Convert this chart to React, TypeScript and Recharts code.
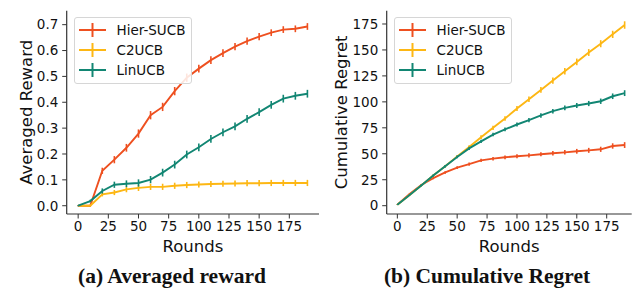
import React from "react";
import {
  LineChart,
  Line,
  XAxis,
  YAxis,
  ErrorBar,
  Legend,
} from "recharts";

const rounds = [0, 10, 20, 30, 40, 50, 60, 70, 80, 90, 100, 110, 120, 130, 140, 150, 160, 170, 180, 190];

// (a) averaged reward
const rewardHier = [0.0, 0.0, 0.135, 0.178, 0.224, 0.279, 0.35, 0.382, 0.443, 0.495, 0.53, 0.563, 0.59, 0.615, 0.636, 0.654, 0.669, 0.681, 0.684, 0.693];
const rewardC2 = [0.0, 0.0, 0.044, 0.051, 0.063, 0.069, 0.073, 0.073, 0.077, 0.08, 0.082, 0.084, 0.085, 0.086, 0.087, 0.087, 0.088, 0.088, 0.088, 0.088];
const rewardLin = [0.0, 0.018, 0.057, 0.081, 0.085, 0.088, 0.101, 0.128, 0.159, 0.198, 0.226, 0.258, 0.284, 0.307, 0.336, 0.362, 0.39, 0.414, 0.425, 0.433];
const rewardHierErr = [0.002, 0.003, 0.012, 0.014, 0.015, 0.016, 0.016, 0.016, 0.016, 0.016, 0.015, 0.015, 0.015, 0.014, 0.014, 0.014, 0.013, 0.013, 0.013, 0.013];
const rewardC2Err = [0.001, 0.002, 0.008, 0.01, 0.011, 0.012, 0.012, 0.012, 0.012, 0.012, 0.012, 0.012, 0.012, 0.012, 0.012, 0.012, 0.012, 0.012, 0.012, 0.012];
const rewardLinErr = [0.002, 0.005, 0.01, 0.012, 0.013, 0.014, 0.014, 0.015, 0.015, 0.015, 0.015, 0.015, 0.015, 0.015, 0.015, 0.015, 0.015, 0.015, 0.015, 0.015];

// (b) cumulative regret
const regretHier = [1, 11, 20, 26.5, 32, 36.7, 40, 43.7, 45.3, 46.6, 47.6, 48.5, 49.5, 50.5, 51.4, 52.4, 53.3, 54.3, 57.5, 58.4];
const regretC2 = [1, 10, 19.5, 29, 38, 47.5, 56.5, 66, 75, 84, 93.5, 102.5, 111.5, 120.5, 129.5, 138.5, 147.5, 156, 165, 174];
const regretLin = [1, 10, 19.5, 29, 38, 47, 55.2, 62, 68.5, 73.5, 78.2, 82.4, 86.9, 91, 94.2, 96.5, 98.4, 100.6, 105.4, 108.4];
const regretHierErr = [0.3, 0.5, 0.8, 1, 1.2, 1.4, 1.5, 1.6, 1.7, 1.8, 1.9, 2, 2, 2.1, 2.2, 2.3, 2.4, 2.5, 2.6, 2.8];
const regretC2Err = [0.3, 0.5, 0.8, 1, 1.2, 1.4, 1.6, 1.8, 2, 2.2, 2.4, 2.6, 2.8, 3, 3.1, 3.2, 3.3, 3.4, 3.5, 3.6];
const regretLinErr = [0.3, 0.5, 0.8, 1, 1.2, 1.4, 1.5, 1.6, 1.7, 1.8, 1.9, 2, 2.1, 2.2, 2.3, 2.4, 2.5, 2.6, 2.7, 2.8];

const xTicks = [0, 25, 50, 75, 100, 125, 150, 175];
const rewardTicks = [0, 0.1, 0.2, 0.3, 0.4, 0.5, 0.6, 0.7];
const regretTicks = [0, 25, 50, 75, 100, 125, 150, 175];

const seriesNames = ["Hier-SUCB", "C2UCB", "LinUCB"];
const colors = ["#ee5020", "#fdb714", "#128673"];

const rewardData = rounds.map((r, i) => ({
  round: r,
  hier: rewardHier[i],
  c2: rewardC2[i],
  lin: rewardLin[i],
  hierErr: rewardHierErr[i],
  c2Err: rewardC2Err[i],
  linErr: rewardLinErr[i],
}));

const regretData = rounds.map((r, i) => ({
  round: r,
  hier: regretHier[i],
  c2: regretC2[i],
  lin: regretLin[i],
  hierErr: regretHierErr[i],
  c2Err: regretC2Err[i],
  linErr: regretLinErr[i],
}));

const font = "'DejaVu Sans', sans-serif";
const spine = "#333";
const tickStyle = { fontSize: 13.5, fill: "#111", fontFamily: font };

function LegendBox() {
  return (
    <div
      style={{
        width: 116,
        height: 63,
        border: "1px solid #d6d6d6",
        borderRadius: 3,
        background: "rgba(255,255,255,0.85)",
        fontFamily: font,
        fontSize: 13.5,
        color: "#111",
        paddingTop: 2,
        boxSizing: "content-box",
      }}
    >
      {seriesNames.map((name, i) => (
        <div key={name} style={{ display: "flex", alignItems: "center", height: 20.3 }}>
          <svg width={38} height={16} style={{ marginLeft: 4 }}>
            <line x1={0} y1={8} x2={27} y2={8} stroke={colors[i]} strokeWidth={2} />
            <line x1={13.5} y1={1} x2={13.5} y2={15} stroke={colors[i]} strokeWidth={2} />
          </svg>
          <span>{name}</span>
        </div>
      ))}
    </div>
  );
}

function Panel({
  data,
  width,
  domainX,
  domainY,
  yTicks,
  yFmt,
  yLabel,
  yLabelX,
  marginRight,
}: {
  data: any[];
  width: number;
  domainX: [number, number];
  domainY: [number, number];
  yTicks: number[];
  yFmt: (v: number) => string;
  yLabel: string;
  yLabelX: number;
  marginRight: number;
}) {
  const keys = ["hier", "c2", "lin"];
  return (
    <LineChart
      width={width}
      height={290}
      data={data}
      margin={{ top: 10.7, right: marginRight, left: 0, bottom: 0 }}
    >
      <XAxis
        dataKey="round"
        type="number"
        domain={domainX}
        allowDataOverflow
        ticks={xTicks}
        height={76}
        tickSize={4.5}
        tickMargin={3.2}
        tick={tickStyle}
        axisLine={{ stroke: spine, strokeWidth: 1.2 }}
        tickLine={{ stroke: spine }}
        label={{
          content: ({ viewBox }: any) => (
            <text
              x={viewBox.x + viewBox.width / 2}
              y={252}
              textAnchor="middle"
              fontSize={16.5}
              fontFamily={font}
              fill="#111"
            >
              Rounds
            </text>
          ),
        }}
      />
      <XAxis
        xAxisId="top"
        orientation="top"
        dataKey="round"
        type="number"
        domain={domainX}
        allowDataOverflow
        height={0}
        tick={false}
        tickLine={false}
        axisLine={{ stroke: spine, strokeWidth: 1.2 }}
      />
      <YAxis
        type="number"
        domain={domainY}
        allowDataOverflow
        ticks={yTicks}
        tickFormatter={yFmt}
        width={66.7}
        tickSize={4.5}
        tickMargin={3.9}
        tick={tickStyle}
        axisLine={{ stroke: spine, strokeWidth: 1.2 }}
        tickLine={{ stroke: spine }}
        label={{
          content: ({ viewBox }: any) => {
            const cy = viewBox.y + viewBox.height / 2;
            return (
              <text
                x={yLabelX}
                y={cy}
                transform={`rotate(-90 ${yLabelX} ${cy})`}
                textAnchor="middle"
                fontSize={16.5}
                fontFamily={font}
                fill="#111"
              >
                {yLabel}
              </text>
            );
          },
        }}
      />
      <YAxis
        yAxisId="right"
        orientation="right"
        type="number"
        domain={domainY}
        allowDataOverflow
        width={0}
        tick={false}
        tickLine={false}
        axisLine={{ stroke: spine, strokeWidth: 1.2 }}
      />
      <Legend
        layout="vertical"
        align="center"
        verticalAlign="middle"
        wrapperStyle={{ left: 73.5, top: 16.5, width: 118 }}
        content={() => <LegendBox />}
      />
      {keys.map((k, i) => (
        <Line
          key={k}
          dataKey={k}
          name={seriesNames[i]}
          type="linear"
          stroke={colors[i]}
          strokeWidth={1.9}
          dot={false}
          isAnimationActive={false}
        >
          <ErrorBar dataKey={k + "Err"} width={0} stroke={colors[i]} strokeWidth={1.6} direction="y" />
        </Line>
      ))}
    </LineChart>
  );
}

const captionStyle: React.CSSProperties = {
  position: "absolute",
  top: 264,
  fontFamily: "'Liberation Serif', serif",
  fontWeight: "bold",
  fontSize: 21.5,
  whiteSpace: "nowrap",
  transform: "translateX(-50%)",
  color: "#111",
};

export default function App() {
  return (
    <div style={{ position: "absolute", left: 0, top: 0, width: 635, height: 290, background: "#fff" }}>
      <div style={{ position: "absolute", left: 0, top: 0 }}>
        <Panel
          data={rewardData}
          width={320}
          domainX={[-9.5, 199.6]}
          domainY={[-0.032, 0.754]}
          yTicks={rewardTicks}
          yFmt={(v) => v.toFixed(1)}
          yLabel="Averaged Reward"
          yLabelX={32}
          marginRight={1}
        />
      </div>
      <div style={{ position: "absolute", left: 320, top: 0 }}>
        <Panel
          data={regretData}
          width={315}
          domainX={[-8.9, 195.9]}
          domainY={[-8.0, 187.8]}
          yTicks={regretTicks}
          yFmt={(v) => String(v)}
          yLabel="Cumulative Regret"
          yLabelX={27}
          marginRight={3.3}
        />
      </div>
      <div style={{ ...captionStyle, left: 172 }}>(a) Averaged reward</div>
      <div style={{ ...captionStyle, left: 487 }}>(b) Cumulative Regret</div>
    </div>
  );
}
